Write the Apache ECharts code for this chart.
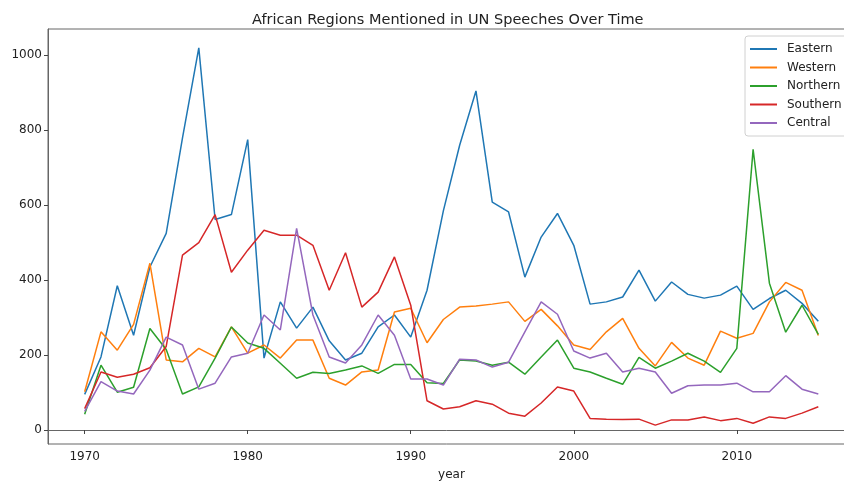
<!DOCTYPE html>
<html>
<head>
<meta charset="utf-8">
<script src="https://cdn.jsdelivr.net/npm/echarts@6/dist/echarts.min.js"></script>
<style>html,body{margin:0;padding:0;background:#fff;}#c{width:844px;height:481px;}</style>
</head>
<body>
<div id="c"></div>
<script>
const years = [];
for (let y = 1970; y <= 2015; y++) years.push(y);
const eastern = [95,195,385,253,435,525,780,1020,562,575,775,192,342,272,328,238,187,205,275,307,248,373,585,760,905,608,582,408,515,578,493,336,342,355,427,344,395,362,352,360,384,322,351,373,338,290];
const western = [102,262,213,282,445,187,182,218,195,275,205,227,192,240,240,138,120,155,160,315,325,233,295,328,331,336,342,290,322,278,227,215,262,298,218,171,234,192,173,264,245,258,342,394,373,252];
const northern = [42,173,101,114,271,215,96,115,192,275,232,218,178,138,154,151,160,171,151,175,175,126,124,187,184,173,181,149,195,240,165,155,138,122,194,165,184,205,184,154,218,749,392,261,333,255];
const southern = [57,155,141,149,166,223,467,500,575,421,480,533,520,520,493,373,473,328,368,462,333,78,56,62,78,69,45,37,72,115,104,31,29,28,29,13,27,27,35,25,31,18,35,31,45,62];
const central = [50,129,104,96,160,248,227,109,125,195,205,307,267,538,307,195,179,227,307,253,136,136,120,189,187,168,181,262,342,309,211,192,205,155,165,155,98,118,120,120,125,102,102,145,109,96];
const seriesNames = ['Eastern','Western','Northern','Southern','Central'];
const seriesColors = ['#1f77b4','#ff7f0e','#2ca02c','#d62728','#9467bd'];
const seriesData = [eastern, western, northern, southern, central];

const all = [].concat(...seriesData);
const dmin = Math.min(...all), dmax = Math.max(...all);
const ypad = (dmax - dmin) * 0.05;
const xpad = (years[years.length-1] - years[0]) * 0.05;

const font = 'DejaVu Sans';
const chart = echarts.init(document.getElementById('c'), null, {renderer: 'canvas'});
chart.setOption({
  animation: false,
  backgroundColor: '#ffffff',
  title: {
    text: 'African Regions Mentioned in UN Speeches Over Time',
    left: 247, top: 8,
    textStyle: {fontFamily: font, fontSize: 14.5, fontWeight: 'normal', color: '#222'}
  },
  legend: {
    orient: 'vertical',
    left: 745, top: 36,
    padding: [6, 6, 6, 5],
    itemWidth: 27, itemHeight: 2, itemGap: 4.5,
    icon: 'rect',
    backgroundColor: 'rgba(255,255,255,0.8)',
    borderColor: '#d0d0d0', borderWidth: 1, borderRadius: 3,
    textStyle: {fontFamily: font, fontSize: 12, color: '#222', lineHeight: 14, padding: [0,0,0,5]},
    data: seriesNames
  },
  grid: {left: 48, top: 29, right: -11, bottom: 37, show: true, borderColor: '#666', borderWidth: 1, containLabel: false, outerBoundsMode: 'none'},
  xAxis: {
    type: 'value',
    min: years[0] - xpad, max: years[years.length-1] + xpad,
    name: 'year', nameLocation: 'middle', nameGap: 25,
    nameTextStyle: {fontFamily: font, fontSize: 12, color: '#222'},
    splitLine: {show: false},
    axisLine: {show: true, lineStyle: {color: '#666', width: 1}},
    axisTick: {show: true, length: 4, lineStyle: {color: '#444'}},
    axisLabel: {fontFamily: font, fontSize: 12, color: '#222', margin: 7, showMinLabel: false, showMaxLabel: false, formatter: v => String(v)}
  },
  yAxis: {
    type: 'value',
    min: dmin - ypad, max: dmax + ypad,
    splitLine: {show: false},
    axisLine: {show: true, lineStyle: {color: '#666', width: 1}},
    axisTick: {show: true, length: 4, lineStyle: {color: '#444'}},
    axisLabel: {fontFamily: font, fontSize: 12, color: '#222', margin: 6, showMinLabel: false, showMaxLabel: false, formatter: v => String(v)}
  },
  series: seriesNames.map((n, i) => ({
    name: n,
    type: 'line',
    symbol: 'none',
    color: seriesColors[i],
    lineStyle: {width: 1.5, color: seriesColors[i]},
    data: years.map((y, j) => [y, seriesData[i][j]])
  }))
});
</script>
</body>
</html>
